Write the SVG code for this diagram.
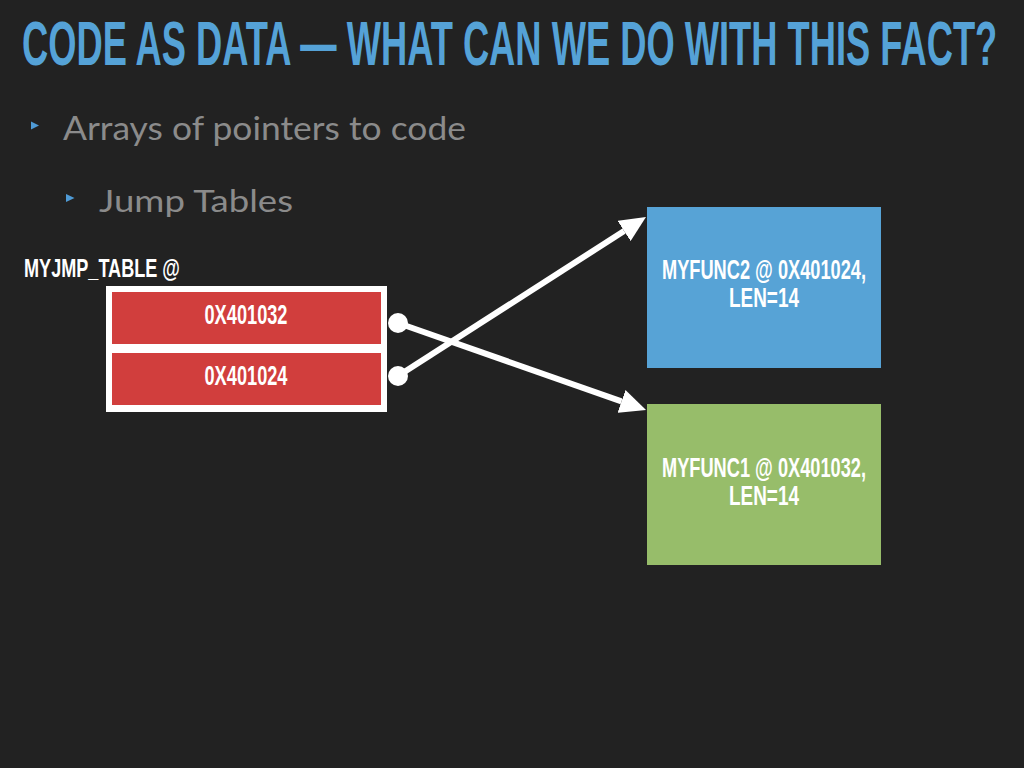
<svg xmlns="http://www.w3.org/2000/svg" width="1024" height="768" viewBox="0 0 1024 768">
  <defs>
    <style>
      .title { font-family: "Liberation Sans", Arial, sans-serif; font-weight: bold; font-size: 63px; fill: #55a2d7; }
      .bullet-text { font-family: Lato, "Noto Sans", sans-serif; fill: #8b8b8b; }
      .bullet-mark { fill: #4f9bd6; }
      .label { font-family: "Liberation Sans", Arial, sans-serif; font-weight: bold; fill: #ffffff; }
      .cell { fill: #d13e3d; }
      .conn { stroke: #ffffff; stroke-width: 6; fill: none; }
      .dot { fill: #ffffff; }
    </style>
    <marker id="arrowhead" viewBox="0 -12 26 24" markerUnits="userSpaceOnUse" markerWidth="26" markerHeight="24" refX="0" refY="0" orient="auto">
      <path d="M0,-12 L26,0 L0,12 z" fill="#ffffff"/>
    </marker>
  </defs>

  <rect x="0" y="0" width="1024" height="768" fill="#222222"/>

  <!-- heading, set in a horizontally condensed face -->
  <g transform="translate(22 65) scale(0.54 1)">
    <text class="title" x="0" y="0" textLength="1806" lengthAdjust="spacingAndGlyphs">CODE AS DATA — WHAT CAN WE DO WITH THIS FACT?</text>
  </g>

  <!-- bullet list -->
  <g id="bullets">
    <polygon class="bullet-mark" points="31,121.5 39,125.5 31,129.5"/>
    <text class="bullet-text" x="63" y="140" font-size="33" textLength="403" lengthAdjust="spacingAndGlyphs">Arrays of pointers to code</text>
    <polygon class="bullet-mark" points="66,194 74.5,198 66,202"/>
    <text class="bullet-text" x="99" y="212" font-size="30" textLength="194" lengthAdjust="spacingAndGlyphs">Jump Tables</text>
  </g>

  <!-- jump table -->
  <g id="jmp-table">
    <text class="label" x="24" y="277" font-size="25" textLength="156" lengthAdjust="spacingAndGlyphs">MYJMP_TABLE @</text>
    <rect x="106" y="286" width="281" height="126" fill="#ffffff"/>
    <g id="entry-0">
      <rect class="cell" x="112" y="292" width="269" height="52"/>
      <text class="label" x="246" y="324" font-size="28" text-anchor="middle" textLength="83" lengthAdjust="spacingAndGlyphs">0X401032</text>
    </g>
    <g id="entry-1">
      <rect class="cell" x="112" y="353" width="269" height="52"/>
      <text class="label" x="246" y="385" font-size="28" text-anchor="middle" textLength="83" lengthAdjust="spacingAndGlyphs">0X401024</text>
    </g>
  </g>

  <!-- functions -->
  <g id="myfunc2">
    <rect x="647" y="207" width="234" height="161" fill="#57a3d6"/>
    <text class="label" x="764" y="279" font-size="28" text-anchor="middle" textLength="204" lengthAdjust="spacingAndGlyphs">MYFUNC2 @ 0X401024,</text>
    <text class="label" x="764" y="307" font-size="28" text-anchor="middle" textLength="70" lengthAdjust="spacingAndGlyphs">LEN=14</text>
  </g>
  <g id="myfunc1">
    <rect x="647" y="404" width="234" height="161" fill="#97bd6a"/>
    <text class="label" x="764" y="477" font-size="28" text-anchor="middle" textLength="204" lengthAdjust="spacingAndGlyphs">MYFUNC1 @ 0X401032,</text>
    <text class="label" x="764" y="505" font-size="28" text-anchor="middle" textLength="70" lengthAdjust="spacingAndGlyphs">LEN=14</text>
  </g>

  <!-- pointers -->
  <g id="connectors">
    <line class="conn" x1="398" y1="323" x2="621.5" y2="401.4" marker-end="url(#arrowhead)"/>
    <line class="conn" x1="398" y1="376" x2="624.1" y2="231" marker-end="url(#arrowhead)"/>
    <circle class="dot" cx="398" cy="323" r="10"/>
    <circle class="dot" cx="398" cy="376" r="10"/>
  </g>
</svg>
